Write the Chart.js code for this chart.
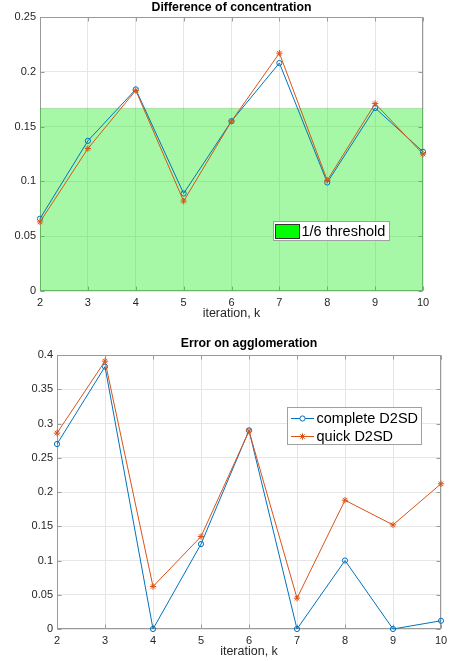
<!DOCTYPE html>
<html><head><meta charset="utf-8">
<script src="https://cdn.jsdelivr.net/npm/chart.js@4"></script>
<style>
html,body{margin:0;padding:0;background:#fff;width:453px;height:661px;overflow:hidden}
canvas{position:absolute;left:0}
</style></head>
<body>
<canvas id="c1" width="453" height="325" style="top:0px"></canvas>
<canvas id="c2" width="453" height="336" style="top:325px"></canvas>
<script>
// ---- data ----
const iterations = [2, 3, 4, 5, 6, 7, 8, 9, 10];
const concComplete = [0.066, 0.137, 0.184, 0.089, 0.155, 0.208, 0.099, 0.167, 0.127];
const concQuick    = [0.063, 0.130, 0.183, 0.082, 0.155, 0.217, 0.101, 0.171, 0.125];
const threshold = 1 / 6;
const agglComplete = [0.270, 0.383, 0.000, 0.124, 0.290, 0.000, 0.100, 0.000, 0.012];
const agglQuick    = [0.286, 0.391, 0.062, 0.135, 0.289, 0.045, 0.188, 0.152, 0.212];
const concYTicks = [0, 0.05, 0.1, 0.15, 0.2, 0.25];
const agglYTicks = [0, 0.05, 0.1, 0.15, 0.2, 0.25, 0.3, 0.35, 0.4];
const xTicks = [2, 3, 4, 5, 6, 7, 8, 9, 10];
const titleTop = 'Difference of concentration';
const titleBottom = 'Error on agglomeration';
const xLabel = 'iteration, k';
const seriesNames = ['complete D2SD', 'quick D2SD'];
const thresholdName = '1/6 threshold';

// ---- style ----
const FONT = '"Liberation Sans", Arial, Helvetica, sans-serif';
const BLUE = '#0072BD', ORANGE = '#D95319';
const AXIS = '#9a9a9a', GRID = '#e6e6e6', TXT = '#262626';

const pts = arr => iterations.map((x, i) => ({x, y: arr[i]}));
const fmt = v => String(+v.toFixed(2));

function titlePlugin(text, y) {
  return {id: 'ttl', afterDraw(chart) {
    const {ctx, chartArea: a} = chart;
    ctx.save();
    ctx.font = 'bold 12.3px ' + FONT;
    ctx.fillStyle = '#000';
    ctx.textAlign = 'center'; ctx.textBaseline = 'middle';
    ctx.fillText(text, (a.left + a.right) / 2, y);
    ctx.restore();
  }};
}

const framePlugin = {id: 'frame', beforeDatasetsDraw(chart) {
  const {ctx, chartArea: a, scales} = chart;
  ctx.save();
  ctx.strokeStyle = AXIS; ctx.lineWidth = 1;
  const L = Math.round(a.left) + 0.5, R = Math.round(a.right) - 0.5;
  const T = Math.round(a.top) + 0.5, B = Math.round(a.bottom) - 0.5;
  ctx.strokeRect(L, T, R - L, B - T);
  const tl = 4;
  ctx.beginPath();
  scales.x.ticks.forEach(t => {
    const px = Math.round(scales.x.getPixelForValue(t.value)) + 0.5;
    ctx.moveTo(px, B); ctx.lineTo(px, B - tl);
    ctx.moveTo(px, T); ctx.lineTo(px, T + tl);
  });
  scales.y.ticks.forEach(t => {
    const py = Math.round(scales.y.getPixelForValue(t.value)) + 0.5;
    ctx.moveTo(L, py); ctx.lineTo(L + tl, py);
    ctx.moveTo(R, py); ctx.lineTo(R - tl, py);
  });
  ctx.stroke();
  ctx.restore();
}};

function scalesFor(yTicks, yMax, yWidth, xHeight, xTitlePad) {
  return {
    x: {
      type: 'linear', min: 2, max: 10,
      afterBuildTicks: s => { s.ticks = xTicks.map(v => ({value: v})); },
      afterFit: s => { s.height = xHeight; },
      grid: {color: GRID, drawTicks: false},
      border: {display: false},
      ticks: {font: {family: FONT, size: 11}, color: TXT, padding: 5.5, maxRotation: 0},
      title: {display: true, text: xLabel, font: {family: FONT, size: 12.5}, color: TXT,
              padding: {top: 0, bottom: xTitlePad}}
    },
    y: {
      type: 'linear', min: 0, max: yMax,
      afterBuildTicks: s => { s.ticks = yTicks.map(v => ({value: v})); },
      afterFit: s => { s.width = yWidth; },
      grid: {color: GRID, drawTicks: false},
      border: {display: false},
      ticks: {font: {family: FONT, size: 11}, color: TXT, padding: 4, callback: v => fmt(v)}
    }
  };
}

const common = {
  responsive: false, animation: false, devicePixelRatio: 1,
  plugins: {legend: {display: false}, tooltip: {enabled: false}}
};

function lineDs(label, arr, color, style, r, order) {
  return {label, data: pts(arr), borderColor: color, borderWidth: 1, tension: 0, fill: false,
    pointStyle: style, pointRadius: r, pointBorderColor: color, pointBorderWidth: 1,
    pointBackgroundColor: 'rgba(0,0,0,0)', order, clip: false};
}

// ---- top chart ----
const legendTop = {id: 'lgTop', afterDraw(chart) {
  const {ctx} = chart;
  ctx.save();
  ctx.fillStyle = '#fff'; ctx.fillRect(273, 221, 117, 20);
  ctx.strokeStyle = '#a0a0a0'; ctx.lineWidth = 1; ctx.strokeRect(273.5, 221.5, 116, 19);
  ctx.fillStyle = '#00ff00'; ctx.fillRect(275.5, 224.5, 24, 14);
  ctx.strokeStyle = '#333'; ctx.strokeRect(275.5, 224.5, 24, 14);
  ctx.fillStyle = '#000'; ctx.font = '14.5px ' + FONT;
  ctx.textAlign = 'left'; ctx.textBaseline = 'middle';
  ctx.fillText(thresholdName, 301.5, 232);
  ctx.restore();
}};

new Chart(document.getElementById('c1'), {
  type: 'line',
  data: {datasets: [
    {label: thresholdName, data: pts(iterations.map(() => threshold)), fill: 'origin',
     backgroundColor: 'rgba(0,235,0,0.35)', borderColor: 'rgba(0,0,0,0.12)', borderWidth: 1,
     pointRadius: 0, tension: 0, order: 3},
    lineDs(seriesNames[0], concComplete, BLUE, 'circle', 2.6, 2),
    lineDs(seriesNames[1], concQuick, ORANGE, 'star', 3.2, 1)
  ]},
  options: Object.assign({}, common, {
    layout: {padding: {top: 17, right: 30, left: 0, bottom: 0}},
    scales: scalesFor(concYTicks, 0.25, 40, 34, 4)
  }),
  plugins: [framePlugin, titlePlugin(titleTop, 7.5), legendTop]
});

// ---- bottom chart ----
const legendBottom = {id: 'lgBot', afterDraw(chart) {
  const {ctx} = chart;
  ctx.save();
  ctx.fillStyle = '#fff'; ctx.fillRect(287, 82, 135, 38);
  ctx.strokeStyle = '#a0a0a0'; ctx.lineWidth = 1; ctx.strokeRect(287.5, 82.5, 134, 37);
  const rows = [[seriesNames[0], BLUE, 'circle', 93.5], [seriesNames[1], ORANGE, 'star', 111.5]];
  ctx.font = '14.5px ' + FONT; ctx.textAlign = 'left'; ctx.textBaseline = 'middle';
  rows.forEach(([name, col, st, y]) => {
    ctx.strokeStyle = col; ctx.lineWidth = 1;
    ctx.beginPath(); ctx.moveTo(291, y); ctx.lineTo(314, y); ctx.stroke();
    Chart.helpers.drawPoint(ctx, {pointStyle: st, radius: st === 'circle' ? 2.6 : 3.2, borderWidth: 1}, 302.5, y);
    ctx.fillStyle = '#000';
    ctx.fillText(name, 316.5, y);
  });
  ctx.restore();
}};

new Chart(document.getElementById('c2'), {
  type: 'line',
  data: {datasets: [
    lineDs(seriesNames[0], agglComplete, BLUE, 'circle', 2.6, 2),
    lineDs(seriesNames[1], agglQuick, ORANGE, 'star', 3.2, 1)
  ]},
  options: Object.assign({}, common, {
    layout: {padding: {top: 30, right: 12, left: 0, bottom: 0}},
    scales: scalesFor(agglYTicks, 0.4, 57, 32, 1.5)
  }),
  plugins: [framePlugin, titlePlugin(titleBottom, 19), legendBottom]
});
</script>
</body></html>
